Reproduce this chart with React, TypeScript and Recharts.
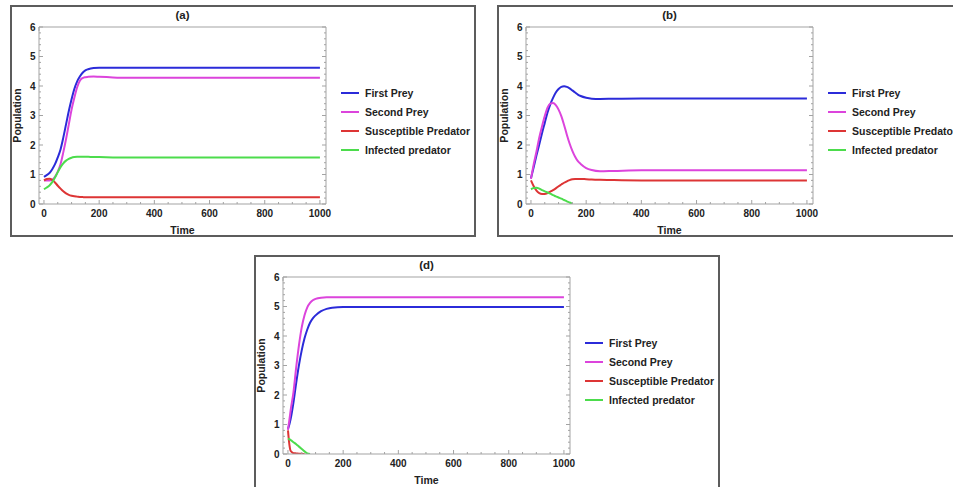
import { LineChart, Line, XAxis, YAxis, Legend } from "recharts";

// panel (a)
const timeA = [0, 10, 20, 30, 40, 50, 60, 70, 80, 90, 100, 110, 120, 130, 140, 150, 160, 180, 200, 250, 300, 400, 600, 800, 1000];
const firstPreyA = [0.92, 0.98, 1.05, 1.18, 1.35, 1.58, 1.85, 2.25, 2.7, 3.15, 3.55, 3.9, 4.15, 4.32, 4.45, 4.53, 4.57, 4.61, 4.62, 4.62, 4.62, 4.62, 4.62, 4.62, 4.62];
const secondPreyA = [0.8, 0.8, 0.8, 0.82, 0.92, 1.1, 1.35, 1.75, 2.2, 2.7, 3.2, 3.6, 3.95, 4.18, 4.27, 4.3, 4.31, 4.32, 4.31, 4.29, 4.28, 4.28, 4.28, 4.28, 4.28];
const suscPredA = [0.8, 0.85, 0.86, 0.82, 0.73, 0.62, 0.52, 0.43, 0.36, 0.31, 0.28, 0.26, 0.25, 0.24, 0.235, 0.23, 0.23, 0.23, 0.23, 0.23, 0.23, 0.23, 0.23, 0.23, 0.23];
const infPredA = [0.5, 0.56, 0.63, 0.74, 0.9, 1.08, 1.25, 1.38, 1.47, 1.53, 1.57, 1.59, 1.6, 1.6, 1.6, 1.6, 1.6, 1.59, 1.59, 1.58, 1.58, 1.58, 1.58, 1.58, 1.58];

// panel (b)
const timeB = [0, 10, 20, 30, 40, 50, 60, 70, 80, 90, 100, 110, 120, 130, 140, 150, 160, 170, 180, 200, 220, 250, 300, 400, 600, 800, 1000];
const firstPreyB = [0.87, 1.25, 1.65, 2.02, 2.4, 2.75, 3.1, 3.38, 3.6, 3.78, 3.9, 3.97, 3.99, 3.97, 3.92, 3.85, 3.78, 3.71, 3.66, 3.6, 3.57, 3.56, 3.57, 3.58, 3.58, 3.58, 3.58];
const secondPreyB = [0.85, 1.35, 1.78, 2.25, 2.63, 2.98, 3.27, 3.4, 3.42, 3.35, 3.2, 2.98, 2.68, 2.35, 2.05, 1.8, 1.6, 1.45, 1.36, 1.22, 1.15, 1.11, 1.12, 1.14, 1.14, 1.14, 1.14];
const suscPredB = [0.8, 0.6, 0.45, 0.37, 0.34, 0.34, 0.37, 0.42, 0.47, 0.53, 0.6, 0.66, 0.72, 0.77, 0.81, 0.84, 0.85, 0.85, 0.85, 0.84, 0.83, 0.82, 0.81, 0.8, 0.8, 0.8, 0.8];
const infPredB = [0.5, 0.54, 0.55, 0.52, 0.47, 0.43, 0.39, 0.35, 0.3, 0.26, 0.22, 0.18, 0.135, 0.09, 0.05, 0, null, null, null, null, null, null, null, null, null, null, null];

// panel (d)
const timeD = [0, 5, 10, 20, 30, 40, 50, 60, 70, 80, 90, 100, 120, 140, 160, 200, 300, 400, 600, 800, 1000];
const firstPreyD = [0.85, 1.0, 1.2, 1.75, 2.42, 3.02, 3.52, 3.92, 4.22, 4.45, 4.6, 4.7, 4.84, 4.92, 4.96, 4.98, 4.98, 4.98, 4.98, 4.98, 4.98];
const secondPreyD = [0.82, 1.15, 1.5, 2.1, 2.95, 3.7, 4.3, 4.7, 4.97, 5.12, 5.21, 5.26, 5.3, 5.31, 5.31, 5.31, 5.31, 5.31, 5.31, 5.31, 5.31];
const suscPredD = [0.8, 0.33, 0.1, 0.03, 0.02, 0.01, 0.005, 0, null, null, null, null, null, null, null, null, null, null, null, null, null];
const infPredD = [0.52, 0.5, 0.47, 0.4, 0.33, 0.25, 0.17, 0.09, 0.02, 0, null, null, null, null, null, null, null, null, null, null, null];

const seriesNames = ["First Prey", "Second Prey", "Susceptible Predator", "Infected predator"];
const seriesColors = ["#2b2bd9", "#dc44dc", "#dd3535", "#4cdc4c"];

const xTicks = [0, 50, 100, 150, 200, 250, 300, 350, 400, 450, 500, 550, 600, 650, 700, 750, 800, 850, 900, 950, 1000];
const xLabels = [0, 200, 400, 600, 800, 1000];
const yTicks = [0, 0.2, 0.4, 0.6, 0.8, 1, 1.2, 1.4, 1.6, 1.8, 2, 2.2, 2.4, 2.6, 2.8, 3, 3.2, 3.4, 3.6, 3.8, 4, 4.2, 4.4, 4.6, 4.8, 5, 5.2, 5.4, 5.6, 5.8, 6];
const yLabels = [0, 1, 2, 3, 4, 5, 6];

const FONT = "'Liberation Sans', Arial, sans-serif";
const FRAME = "#a3a3a3";

function buildRows(time: number[], cols: (number | null)[][]) {
  return time.map((t, i) => ({ t, s0: cols[0][i], s1: cols[1][i], s2: cols[2][i], s3: cols[3][i] }));
}

const rowsA = buildRows(timeA, [firstPreyA, secondPreyA, suscPredA, infPredA]);
const rowsB = buildRows(timeB, [firstPreyB, secondPreyB, suscPredB, infPredB]);
const rowsD = buildRows(timeD, [firstPreyD, secondPreyD, suscPredD, infPredD]);

function XTick(props: any) {
  const { x, y, payload, top } = props;
  const v = payload.value;
  const major = xLabels.includes(v);
  const len = major ? 4 : 2;
  return (
    <g>
      <line x1={x} x2={x} y1={y} y2={top ? y + len : y - len} stroke={FRAME} />
      {!top && major && (
        <text x={x} y={y + 13} textAnchor="middle" fontSize={10} fontWeight="bold" fontFamily={FONT} fill="#222">
          {v}
        </text>
      )}
    </g>
  );
}

function YTick(props: any) {
  const { x, y, payload, right } = props;
  const v = payload.value;
  const major = yLabels.includes(v);
  const len = major ? 4 : 2;
  return (
    <g>
      <line x1={x} x2={right ? x - len : x + len} y1={y} y2={y} stroke={FRAME} />
      {!right && major && (
        <text x={x - 3.5} y={y + 3.6} textAnchor="end" fontSize={10} fontWeight="bold" fontFamily={FONT} fill="#222">
          {v}
        </text>
      )}
    </g>
  );
}

function LegendBody(props: any) {
  const items = [...(props.payload || [])].sort(
    (a: any, b: any) => seriesNames.indexOf(a.value) - seriesNames.indexOf(b.value)
  );
  return (
    <div style={{ fontFamily: FONT, fontSize: 10.5, fontWeight: "bold", color: "#222" }}>
      {items.map((it: any) => (
        <div key={it.value} style={{ height: 19, display: "flex", alignItems: "center", whiteSpace: "nowrap" }}>
          <div style={{ width: 18, height: 2, background: it.color, marginRight: 6 }} />
          <span>{it.value}</span>
        </div>
      ))}
    </div>
  );
}

function Panel({ left, top, title, rows, boxW, boxH }: any) {
  return (
    <div style={{ position: "absolute", left, top, width: 466, height: 232 }}>
      <div
        style={{
          position: "absolute",
          left: 0,
          top: 0,
          width: boxW,
          height: boxH,
          border: "2px solid #5c5c5c",
          boxSizing: "border-box",
        }}
      />
      <div
        style={{
          position: "absolute",
          left: 0,
          top: 3.5,
          width: 345,
          lineHeight: "13px",
          textAlign: "center",
          fontFamily: FONT,
          fontSize: 11.5,
          fontWeight: "bold",
          color: "#222",
        }}
      >
        {title}
      </div>
      <div style={{ position: "absolute", left: 0, top: 0 }}>
        <LineChart width={466} height={232} data={rows} margin={{ top: 12, right: 140, bottom: 0, left: 0 }}>
          <XAxis
            dataKey="t"
            type="number"
            domain={[-18, 1022]}
            ticks={xTicks}
            interval={0}
            allowDataOverflow
            height={33}
            tickSize={0}
            tickMargin={0}
            axisLine={{ stroke: FRAME }}
            tick={(p: any) => <XTick {...p} />}
            label={{ value: "Time", position: "insideBottom", offset: 3, fontSize: 10.5, fontWeight: "bold", fontFamily: FONT, fill: "#222" }}
          />
          <XAxis
            xAxisId="top"
            orientation="top"
            type="number"
            domain={[-18, 1022]}
            ticks={xTicks}
            interval={0}
            allowDataOverflow
            height={10}
            tickSize={0}
            tickMargin={0}
            axisLine={{ stroke: FRAME }}
            tick={(p: any) => <XTick {...p} top />}
          />
          <YAxis
            type="number"
            domain={[0, 6]}
            ticks={yTicks}
            interval={0}
            allowDataOverflow
            width={29}
            tickSize={0}
            tickMargin={0}
            axisLine={{ stroke: FRAME }}
            tick={(p: any) => <YTick {...p} />}
            label={{ value: "Population", angle: -90, position: "insideLeft", offset: 7, textAnchor: "middle", fontSize: 10.5, fontWeight: "bold", fontFamily: FONT, fill: "#222" }}
          />
          <YAxis
            yAxisId="right"
            orientation="right"
            type="number"
            domain={[0, 6]}
            ticks={yTicks}
            interval={0}
            allowDataOverflow
            width={10}
            tickSize={0}
            tickMargin={0}
            axisLine={{ stroke: FRAME }}
            tick={(p: any) => <YTick {...p} right />}
          />
          <Legend
            layout="vertical"
            align="center"
            verticalAlign="middle"
            wrapperStyle={{ left: 331, top: 78.5, width: 150 }}
            content={(p: any) => <LegendBody {...p} />}
          />
          {seriesNames.map((name, i) => (
            <Line
              key={name}
              type="monotone"
              dataKey={"s" + i}
              name={name}
              stroke={seriesColors[i]}
              strokeWidth={2}
              dot={false}
              isAnimationActive={false}
            />
          ))}
        </LineChart>
      </div>
    </div>
  );
}

export default function App() {
  return (
    <div
      style={{
        position: "absolute",
        left: 0,
        top: 0,
        width: 953,
        height: 487,
        overflow: "hidden",
        background: "#fff",
      }}
    >
      <Panel left={10} top={5} title="(a)" rows={rowsA} boxW={466} boxH={232} />
      <Panel left={497} top={5} title="(b)" rows={rowsB} boxW={480} boxH={232} />
      <Panel left={254} top={255} title="(d)" rows={rowsD} boxW={466} boxH={245} />
    </div>
  );
}
